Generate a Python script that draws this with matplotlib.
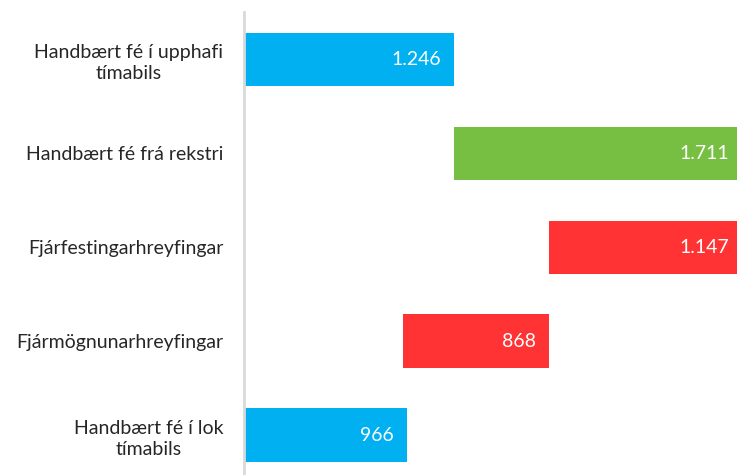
import matplotlib.pyplot as plt

categories = ["Handbært fé í upphafi\ntímabils", "Handbært fé frá rekstri",
              "Fjárfestingarhreyfingar", "Fjármögnunarhreyfingar",
              "Handbært fé í lok\ntímabils"]
values = [1246, 1711, -1147, -868, 966]
labels = ["1.246", "1.711", "1.147", "868", "966"]
colors = ["#00B0F0", "#76BF43", "#FF3333", "#FF3333", "#00B0F0"]

# waterfall: bar start (left) and width
lefts = []
widths = []
running = 0
for i, v in enumerate(values):
    if i == 0 or i == len(values) - 1:
        lefts.append(0)
        widths.append(abs(v))
        running = v
    elif v >= 0:
        lefts.append(running)
        widths.append(v)
        running += v
    else:
        running += v
        lefts.append(running)
        widths.append(-v)

plt.rcParams['font.family'] = ['Lato', 'DejaVu Sans']

fig = plt.figure(figsize=(7.37, 4.75), dpi=100)
ax = fig.add_axes([244 / 737, 0, 493 / 737, 463 / 475])

ypos = list(range(len(categories)))
ax.barh(ypos, widths, left=lefts, height=0.57, color=colors)

for y, l, w, t in zip(ypos, lefts, widths, labels):
    ax.text(l + w - 78, y, t, color="white", fontsize=14,
            ha="right", va="center")

ax.set_xlim(0, 2925)
ax.set_ylim(4.426, -0.506)
ax.set_yticks(ypos)
ax.set_yticklabels(categories, fontsize=14, color="#262626",
                   multialignment="center", linespacing=1.3)
ax.tick_params(axis="y", length=0, pad=15)
ax.set_xticks([])

for s in ["top", "right", "bottom"]:
    ax.spines[s].set_visible(False)
ax.spines["left"].set_color("#D9D9D9")
ax.spines["left"].set_linewidth(2)

fig.savefig("out.png", dpi=100)
